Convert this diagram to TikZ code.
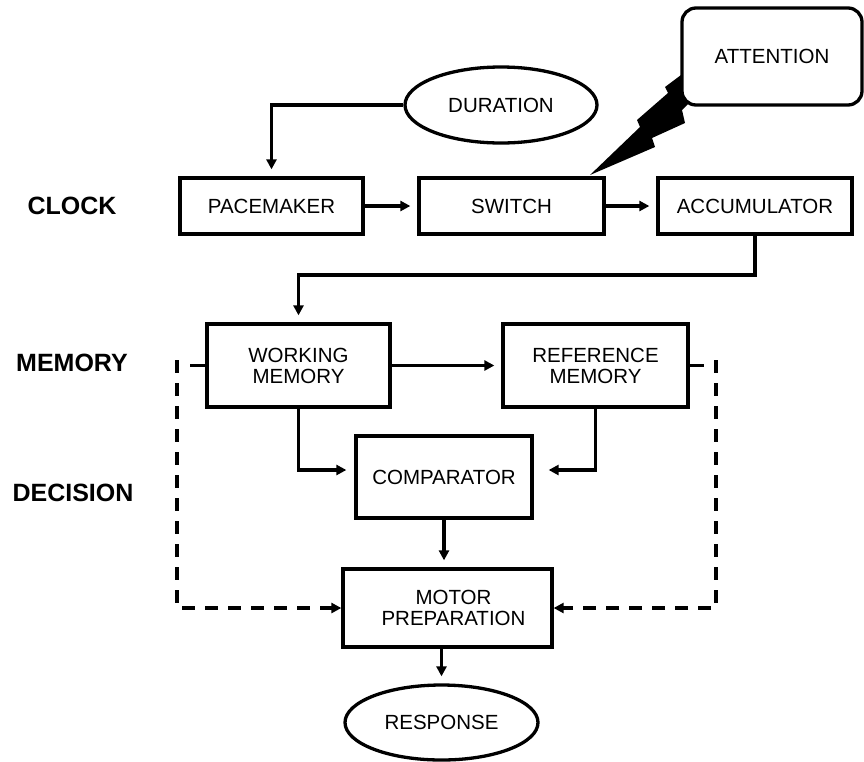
\documentclass[tikz,border=0pt]{standalone}
\usepackage{fontspec}
\setmainfont{Liberation Sans}
\usetikzlibrary{shapes.geometric,arrows.meta,calc}
\begin{document}
\begin{tikzpicture}[x=1pt,y=-1pt,
  line width=3.3pt,
  box/.style={draw,rectangle,inner sep=0pt,align=center,font=\fontsize{20.5}{21}\selectfont},
  oval/.style={draw,ellipse,inner sep=0pt,align=center,font=\fontsize{20.5}{21}\selectfont},
  lab/.style={font=\fontsize{25}{28}\selectfont\bfseries},
  arr/.style={-{Triangle[length=10pt,width=10pt]},shorten >=7pt},
  darr/.style={-{Triangle[length=10pt,width=10pt]},dash pattern=on 13pt off 10pt}]
\useasboundingbox (0,0) rectangle (864,761);
% labels
\node[lab] (clock) at (72,206) {CLOCK};
\node[lab] (memory) at (72,363) {MEMORY};
\node[lab] (decision) at (73,493) {DECISION};
% lightning bolt
\fill (590,175) -- (640,127) -- (637,120) -- (668,93) -- (665,87) -- (681,75)
  -- (695,75) -- (695,104) -- (688,104) -- (682,110) -- (685,123)
  -- (652,138) -- (655,147) -- cycle;
% nodes
\node[box,fill=white,rounded corners=14pt,minimum width=180pt,minimum height=97pt] (attn) at (772,56.5) {ATTENTION};
\node[oval,minimum width=192pt,minimum height=76pt] (dur) at (501,105) {DURATION};
\node[box,minimum width=183pt,minimum height=56pt] (pace) at (271.5,206) {PACEMAKER};
\node[box,minimum width=185pt,minimum height=56pt] (switch) at (511.5,206) {SWITCH};
\node[box,minimum width=194pt,minimum height=56pt] (accum) at (755,206) {ACCUMULATOR};
\node[box,minimum width=183pt,minimum height=83pt] (wm) at (298.5,365.5) {WORKING\\MEMORY};
\node[box,minimum width=185pt,minimum height=83pt] (rm) at (595.5,365.5) {REFERENCE\\MEMORY};
\node[box,minimum width=176pt,minimum height=82pt] (comp) at (444,477) {COMPARATOR};
\node[box,minimum width=209pt,minimum height=78pt] (mp) at (447.5,608) {\hspace*{12pt}MOTOR\\\hspace*{12pt}PREPARATION};
\node[oval,minimum width=193pt,minimum height=75pt] (resp) at (441.5,722.5) {RESPONSE};
% helper coordinates
\coordinate (bend) at (0,275);
\coordinate (cy) at (0,470);
\coordinate (dl) at (177,360);
\coordinate (dr) at (716,360);
% connectors
\draw[arr] (dur.west) -| (pace.north);
\draw[arr] (pace.east) -- (switch.west);
\draw[arr] (switch.east) -- (accum.west);
\draw[arr] (accum.south) |- (wm.north |- bend) -- (wm.north);
\draw[arr] (wm.east) -- (rm.west);
\draw[arr,shorten >=8pt] (wm.south) |- (comp.west |- cy);
\draw[arr,shorten >=15pt] (rm.south) |- (comp.east |- cy);
\draw[arr] (comp.south) -- (comp.south |- mp.north);
\draw[arr] (resp.north |- mp.south) -- (resp.north);
\draw (wm.west) -- ++(-15,0);
\draw (rm.east) -- ++(14,0);
\draw[darr] (dl) |- (mp.west);
\draw[darr] (dr) |- (mp.east);
\end{tikzpicture}
\end{document}
